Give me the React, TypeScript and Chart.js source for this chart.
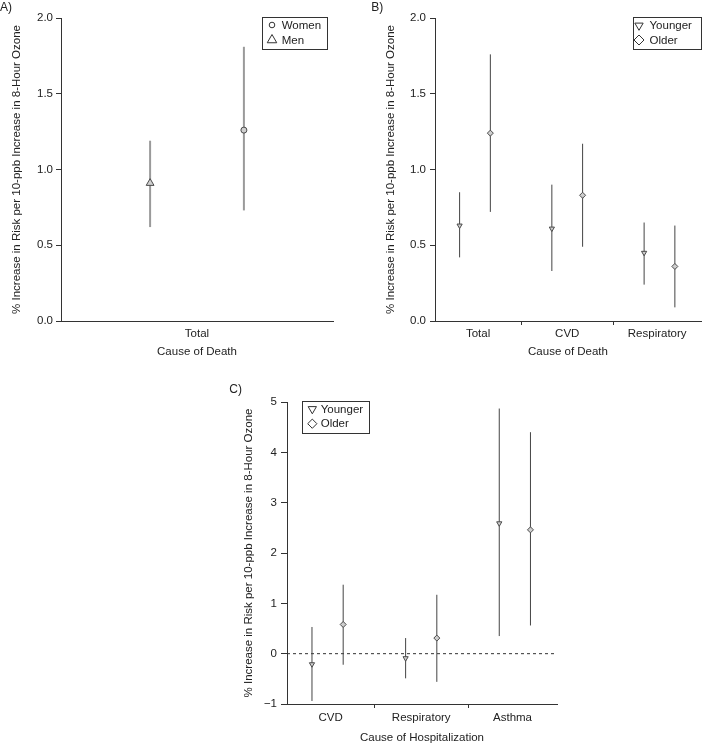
import React, { useEffect, useRef } from 'react';
import { Chart, registerables } from 'chart.js';
import { drawPoint } from 'chart.js/helpers';

Chart.register(...registerables);

const FONT_FAMILY = '"Liberation Sans", Arial, Helvetica, sans-serif';
const TEXT_COLOR = '#222';
const AXIS_COLOR = '#333';
const Y_TITLE = '% Increase in Risk per 10-ppb Increase in 8-Hour Ozone';

// ---------- Panel A: sex ----------
const categoriesA = ['Total'];
const womenEst = [1.26];
const womenLo = [0.73];
const womenHi = [1.81];
const menEst = [0.91];
const menLo = [0.62];
const menHi = [1.19];
const yTicksA = [0, 0.5, 1.0, 1.5, 2.0];

// ---------- Panel B: age, mortality ----------
const categoriesB = ['Total', 'CVD', 'Respiratory'];
const youngerBEst = [0.63, 0.61, 0.45];
const youngerBLo = [0.42, 0.33, 0.24];
const youngerBHi = [0.85, 0.9, 0.65];
const olderBEst = [1.24, 0.83, 0.36];
const olderBLo = [0.72, 0.49, 0.09];
const olderBHi = [1.76, 1.17, 0.63];
const yTicksB = [0, 0.5, 1.0, 1.5, 2.0];

// ---------- Panel C: age, hospitalization ----------
const categoriesC = ['CVD', 'Respiratory', 'Asthma'];
const youngerCEst = [-0.21, -0.09, 2.59];
const youngerCLo = [-0.94, -0.49, 0.35];
const youngerCHi = [0.53, 0.31, 4.87];
const olderCEst = [0.58, 0.31, 2.46];
const olderCLo = [-0.22, -0.56, 0.56];
const olderCHi = [1.37, 1.17, 4.4];
const yTicksC = [-1, 0, 1, 2, 3, 4, 5];

type Series = {
  label: string;
  est: number[];
  lo: number[];
  hi: number[];
  slot: number;
  pointStyle: string;
  rotation: number;
  radius: number;
  legendRadius: number;
};

type PanelSpec = {
  panelLabel: string;
  panelLabelX: number;
  panelLabelY: number;
  categories: string[];
  series: Series[];
  legendOrder: number[];
  xMin: number;
  xMax: number;
  yMin: number;
  yMax: number;
  yTicks: number[];
  yFormat: (v: number) => string;
  xTitle: string;
  barColor: string;
  barWidth: number;
  showSeparators: boolean;
  zeroLine: boolean;
  pad: { left: number; top: number; right: number };
  yAxisWidth: number;
  yTickLength: number;
  yTickPad: number;
  xAxisHeight: number;
  xTickPad: number;
  xTitlePadBottom: number;
  legend: {
    anchor: 'left' | 'right';
    dx: number;
    dy: number;
    width: number;
    height: number;
    markerDx: number;
    textDx: number;
    rows: number[];
  };
};

const fmt1 = (v: number) => v.toFixed(1);
const fmtInt = (v: number) => (v < 0 ? '\u2212' + Math.abs(v) : String(v));

const panelA: PanelSpec = {
  panelLabel: 'A)',
  panelLabelX: 0,
  panelLabelY: 8,
  categories: categoriesA,
  series: [
    { label: 'Women', est: womenEst, lo: womenLo, hi: womenHi, slot: 1, pointStyle: 'circle', rotation: 0, radius: 3, legendRadius: 2.8 },
    { label: 'Men', est: menEst, lo: menLo, hi: menHi, slot: 0, pointStyle: 'triangle', rotation: 0, radius: 4.5, legendRadius: 5.5 },
  ],
  legendOrder: [0, 1],
  xMin: 0.05,
  xMax: 2.95,
  yMin: 0,
  yMax: 2,
  yTicks: yTicksA,
  yFormat: fmt1,
  xTitle: 'Cause of Death',
  barColor: '#9a9a9a',
  barWidth: 2,
  showSeparators: false,
  zeroLine: false,
  pad: { left: 10, top: 18, right: 20 },
  yAxisWidth: 51,
  yTickLength: 5,
  yTickPad: 3,
  xAxisHeight: 49,
  xTickPad: 1.5,
  xTitlePadBottom: 11.4,
  legend: { anchor: 'right', dx: 6, dy: -1, width: 65, height: 32, markerDx: 10, textDx: 19.7, rows: [8, 23] },
};

const panelB: PanelSpec = {
  panelLabel: 'B)',
  panelLabelX: 18.3,
  panelLabelY: 8,
  categories: categoriesB,
  series: [
    { label: 'Younger', est: youngerBEst, lo: youngerBLo, hi: youngerBHi, slot: 0, pointStyle: 'triangle', rotation: 180, radius: 3, legendRadius: 4.8 },
    { label: 'Older', est: olderBEst, lo: olderBLo, hi: olderBHi, slot: 1, pointStyle: 'rectRot', rotation: 0, radius: 3, legendRadius: 5 },
  ],
  legendOrder: [0, 1],
  xMin: 0.2,
  xMax: 8.85,
  yMin: 0,
  yMax: 2,
  yTicks: yTicksB,
  yFormat: fmt1,
  xTitle: 'Cause of Death',
  barColor: '#444',
  barWidth: 1,
  showSeparators: true,
  zeroLine: false,
  pad: { left: 31, top: 18, right: 0 },
  yAxisWidth: 51,
  yTickLength: 5,
  yTickPad: 4,
  xAxisHeight: 49,
  xTickPad: 1.5,
  xTitlePadBottom: 11.4,
  legend: { anchor: 'right', dx: 0.5, dy: -1, width: 68, height: 32, markerDx: 6.5, textDx: 17, rows: [8.5, 23] },
};

const panelC: PanelSpec = {
  panelLabel: 'C)',
  panelLabelX: 49.3,
  panelLabelY: 20,
  categories: categoriesC,
  series: [
    { label: 'Younger', est: youngerCEst, lo: youngerCLo, hi: youngerCHi, slot: 0, pointStyle: 'triangle', rotation: 180, radius: 3, legendRadius: 4.8 },
    { label: 'Older', est: olderCEst, lo: olderCLo, hi: olderCHi, slot: 1, pointStyle: 'rectRot', rotation: 0, radius: 3, legendRadius: 4.6 },
  ],
  legendOrder: [0, 1],
  xMin: 0.2,
  xMax: 8.85,
  yMin: -1,
  yMax: 5,
  yTicks: yTicksC,
  yFormat: fmtInt,
  xTitle: 'Cause of Hospitalization',
  barColor: '#444',
  barWidth: 1,
  showSeparators: true,
  zeroLine: true,
  pad: { left: 62, top: 32, right: 23 },
  yAxisWidth: 45,
  yTickLength: 6,
  yTickPad: 4,
  xAxisHeight: 41,
  xTickPad: 2.5,
  xTitlePadBottom: 0,
  legend: { anchor: 'left', dx: 14.7, dy: -0.6, width: 66.6, height: 31.6, markerDx: 10.6, textDx: 19, rows: [7.6, 22.3] },
};

const slotX = (catIndex: number, slot: number) => catIndex * 3 + 1 + slot;

const boxLegendPlugin = {
  id: 'boxLegend',
  afterDraw(chart: any, _args: any, opts: any) {
    const spec: PanelSpec = opts.spec;
    if (!spec) return;
    const ctx = chart.ctx as CanvasRenderingContext2D;
    const area = chart.chartArea;
    ctx.save();
    // panel label
    ctx.fillStyle = TEXT_COLOR;
    ctx.font = `12px ${FONT_FAMILY}`;
    ctx.textBaseline = 'middle';
    ctx.textAlign = 'left';
    ctx.fillText(spec.panelLabel, spec.panelLabelX, spec.panelLabelY);

    // legend box
    const L = spec.legend;
    const bx = L.anchor === 'right' ? area.right - L.dx - L.width : area.left + L.dx;
    const by = area.top + L.dy;
    ctx.strokeStyle = AXIS_COLOR;
    ctx.lineWidth = 1;
    ctx.strokeRect(Math.round(bx) + 0.5, Math.round(by) + 0.5, Math.round(L.width), Math.round(L.height));
    ctx.font = `11.5px ${FONT_FAMILY}`;
    spec.legendOrder.forEach((si, row) => {
      const s = spec.series[si];
      const cy = by + L.rows[row];
      ctx.fillStyle = '#fff';
      ctx.strokeStyle = '#333';
      ctx.lineWidth = 1;
      drawPoint(ctx, { pointStyle: s.pointStyle as any, rotation: s.rotation, radius: s.legendRadius, borderWidth: 1 }, bx + L.markerDx, cy);
      ctx.fillStyle = TEXT_COLOR;
      ctx.fillText(s.label, bx + L.textDx, cy + 0.5);
    });
    ctx.restore();
  },
};

function buildConfig(spec: PanelSpec): any {
  const datasets: any[] = [];
  if (spec.zeroLine) {
    datasets.push({
      label: '',
      data: [
        { x: spec.xMin, y: 0 },
        { x: spec.xMax, y: 0 },
      ],
      showLine: true,
      borderColor: '#333',
      borderWidth: 1,
      borderDash: [3, 3],
      pointRadius: 0,
      order: 3,
    });
  }
  spec.series.forEach((s) => {
    const bars: any[] = [];
    spec.categories.forEach((_, i) => {
      const x = slotX(i, s.slot);
      bars.push({ x, y: s.lo[i] }, { x, y: s.hi[i] }, { x, y: null });
    });
    datasets.push({
      label: '',
      data: bars,
      showLine: true,
      spanGaps: false,
      borderColor: spec.barColor,
      borderWidth: spec.barWidth,
      pointRadius: 0,
      order: 2,
    });
    datasets.push({
      label: s.label,
      data: spec.categories.map((_, i) => ({ x: slotX(i, s.slot), y: s.est[i] })),
      showLine: false,
      pointStyle: s.pointStyle,
      pointRotation: s.rotation,
      pointRadius: s.radius,
      pointBackgroundColor: '#cfcfcf',
      pointBorderColor: '#4a4a4a',
      pointBorderWidth: 1,
      order: 1,
    });
  });

  // x ticks: category centres (labelled) and separators (tick marks only)
  const bounds = [spec.xMin];
  for (let i = 1; i < spec.categories.length; i++) bounds.push(i * 3);
  bounds.push(spec.xMax);
  const xTickValues: number[] = [];
  const xTickLabels: string[] = [];
  const xTickIsSep: boolean[] = [];
  spec.categories.forEach((c, i) => {
    xTickValues.push((bounds[i] + bounds[i + 1]) / 2);
    xTickLabels.push(c);
    xTickIsSep.push(false);
    if (i < spec.categories.length - 1) {
      xTickValues.push(bounds[i + 1]);
      xTickLabels.push('');
      xTickIsSep.push(true);
    }
  });

  const font = { family: FONT_FAMILY, size: 11.5 };

  return {
    type: 'scatter',
    data: { datasets },
    plugins: [boxLegendPlugin],
    options: {
      animation: false,
      responsive: false,
      events: [],
      layout: { padding: { left: spec.pad.left, top: spec.pad.top, right: spec.pad.right, bottom: 0 } },
      plugins: {
        legend: { display: false },
        tooltip: { enabled: false },
        boxLegend: { spec },
      },
      scales: {
        x: {
          type: 'linear',
          min: spec.xMin,
          max: spec.xMax,
          afterBuildTicks: (scale: any) => {
            scale.ticks = xTickValues.map((v) => ({ value: v }));
          },
          afterFit: (scale: any) => {
            scale.height = spec.xAxisHeight;
          },
          ticks: {
            autoSkip: false,
            maxRotation: 0,
            minRotation: 0,
            padding: spec.xTickPad,
            color: TEXT_COLOR,
            font,
            callback: (_v: any, i: number) => xTickLabels[i],
          },
          grid: {
            drawOnChartArea: false,
            drawTicks: true,
            tickLength: 4,
            lineWidth: 1,
            color: (ctx: any) =>
              spec.showSeparators && ctx.index !== undefined && xTickIsSep[ctx.index] ? AXIS_COLOR : 'rgba(0,0,0,0)',
          },
          border: { display: true, color: AXIS_COLOR, width: 1 },
          title: {
            display: true,
            text: spec.xTitle,
            color: TEXT_COLOR,
            font,
            padding: { top: 0, bottom: spec.xTitlePadBottom },
          },
        },
        y: {
          type: 'linear',
          position: 'left',
          min: spec.yMin,
          max: spec.yMax,
          afterBuildTicks: (scale: any) => {
            scale.ticks = spec.yTicks.map((v) => ({ value: v }));
          },
          afterFit: (scale: any) => {
            scale.width = spec.yAxisWidth;
          },
          ticks: {
            padding: spec.yTickPad,
            color: TEXT_COLOR,
            font,
            callback: (v: any) => spec.yFormat(Number(v)),
          },
          grid: {
            drawOnChartArea: false,
            drawTicks: true,
            tickLength: spec.yTickLength,
            color: AXIS_COLOR,
            lineWidth: 1,
          },
          border: { display: true, color: AXIS_COLOR, width: 1 },
          title: {
            display: true,
            text: Y_TITLE,
            color: TEXT_COLOR,
            font,
            padding: { top: 0, bottom: 0 },
          },
        },
      },
    },
  };
}

function Panel(props: { spec: PanelSpec; left: number; top: number; width: number; height: number }) {
  const ref = useRef<HTMLCanvasElement | null>(null);
  useEffect(() => {
    if (!ref.current) return;
    const chart = new Chart(ref.current, buildConfig(props.spec));
    return () => chart.destroy();
  }, []);
  return (
    <canvas
      ref={ref}
      width={props.width}
      height={props.height}
      style={{ position: 'absolute', left: props.left, top: props.top, width: props.width, height: props.height }}
    />
  );
}

export default function App() {
  return (
    <div style={{ position: 'absolute', left: 0, top: 0, width: 706, height: 745, background: '#fff', overflow: 'hidden' }}>
      <Panel spec={panelA} left={0} top={0} width={353} height={370} />
      <Panel spec={panelB} left={353} top={0} width={353} height={370} />
      <Panel spec={panelC} left={180} top={370} width={400} height={375} />
    </div>
  );
}
